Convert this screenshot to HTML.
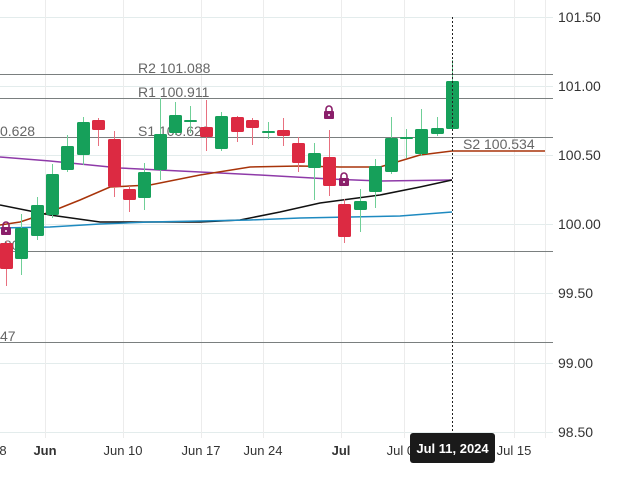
<!DOCTYPE html>
<html><head><meta charset="utf-8"><style>
body{margin:0;background:#fff;width:628px;height:477px;overflow:hidden;font-family:"Liberation Sans",sans-serif}
svg text{font-family:"Liberation Sans",sans-serif}
</style></head><body>
<svg width="628" height="477" xmlns="http://www.w3.org/2000/svg">
<g stroke="#e3ecec" stroke-width="1">
<line x1="0" y1="17.5" x2="553" y2="17.5"/><line x1="0" y1="86.5" x2="553" y2="86.5"/><line x1="0" y1="155.5" x2="553" y2="155.5"/><line x1="0" y1="224.5" x2="553" y2="224.5"/><line x1="0" y1="293.5" x2="553" y2="293.5"/><line x1="0" y1="363.5" x2="553" y2="363.5"/><line x1="0" y1="432.5" x2="553" y2="432.5"/>
</g>
<g stroke="#ececec" stroke-width="1">
<line x1="45.5" y1="0" x2="45.5" y2="438"/><line x1="123.5" y1="0" x2="123.5" y2="438"/><line x1="201.5" y1="0" x2="201.5" y2="438"/><line x1="263.5" y1="0" x2="263.5" y2="438"/><line x1="341.5" y1="0" x2="341.5" y2="438"/><line x1="404.5" y1="0" x2="404.5" y2="438"/><line x1="514.5" y1="0" x2="514.5" y2="438"/><line x1="545.5" y1="0" x2="545.5" y2="438"/>
</g>
<g stroke="#7a7f7f" stroke-width="1">
<line x1="0" y1="74.5" x2="553" y2="74.5"/><line x1="0" y1="98.5" x2="553" y2="98.5"/><line x1="0" y1="137.5" x2="553" y2="137.5"/><line x1="0" y1="251.5" x2="553" y2="251.5"/><line x1="0" y1="342.5" x2="553" y2="342.5"/>
</g>
<g fill="#666" font-size="14">
<text x="138" y="73">R2 101.088</text><text x="138" y="97">R1 100.911</text><text x="138" y="136">S1 100.628</text><text x="0" y="136">0.628</text><text x="463" y="149">S2 100.534</text><text x="0" y="250">.809</text><text x="0" y="341">47</text>
</g>
<g fill="none" stroke-width="1.5">
<polyline stroke="#8e3aa8" points="0,157 50,161 120,168 200,172 260,175 330,179 380,181 452,180"/>
<polyline stroke="#a8340a" points="0,225 20,222 50,212 80,200 110,187 150,185 200,175 250,167 300,166 340,167 380,167 420,155 452,151 545,151"/>
<polyline stroke="#111" points="0,205 50,215 100,222 155,222 200,222 240,220 280,212 320,203 380,195 420,187 452,180"/>
<polyline stroke="#1e8ac0" points="0,228 50,227 100,224 150,222 200,221 250,220 300,218 350,217 400,216 452,212"/>
</g>
<g id="c"></g>
<line x1="452.5" y1="17" x2="452.5" y2="432" stroke="#222" stroke-dasharray="2,2"/>
<g fill="#333" font-size="14">
<text x="558" y="22">101.50</text><text x="558" y="91">101.00</text><text x="558" y="160">100.50</text><text x="558" y="229">100.00</text><text x="558" y="298">99.50</text><text x="558" y="368">99.00</text><text x="558" y="437">98.50</text>
</g>
<g fill="#333" font-size="13" text-anchor="middle">
<text x="3" y="455">8</text><text x="45" y="455" font-weight="bold">Jun</text><text x="123" y="455">Jun 10</text><text x="201" y="455">Jun 17</text><text x="263" y="455">Jun 24</text><text x="341" y="455" font-weight="bold">Jul</text><text x="404" y="455">Jul 08</text><text x="514" y="455">Jul 15</text>
</g>
<rect x="410" y="433" width="85" height="30" rx="3" fill="#1a1a1a"/>
<text x="452.5" y="453" fill="#fff" font-size="13" font-weight="bold" text-anchor="middle">Jul 11, 2024</text>
</svg>
<script>
var d=[[6,'r',243,269,241,286],[21,'g',228,259,214,275],[37,'g',205,236,197,240],[52,'g',174,215,164,218],[67,'g',146,170,135,172],[83,'g',122,155,117,165],[98,'r',120,130,118,146],[114,'r',139,187,131,197],[129,'r',189,200,186,212],[144,'g',172,198,163,210],[160,'g',134,170,98,180],[175,'g',115,133,102,135],[190,'g',120,121,106,133],[206,'r',127,137,100,151],[221,'g',116,149,112,151],[237,'r',117,132,116,142],[252,'r',120,128,118,145],[268,'g',131,132,122,139],[283,'r',130,136,118,146],[298,'r',143,163,137,172],[314,'g',153,168,143,200],[329,'r',157,186,130,196],[344,'r',204,237,199,243],[360,'g',201,210,189,232],[375,'g',166,192,159,208],[391,'g',138,172,117,174],[406,'g',137,139,129,158],[421,'g',129,154,109,156],[437,'g',128,134,117,136],[452,'g',81,129,60,131]];
var s='';d.forEach(function(c){var col=c[1]=='g'?'#16a05a':'#dc2a42',wc=c[1]=='g'?'#6fcf97':'#e8707f';
s+='<line x1="'+c[0]+'.5" y1="'+c[4]+'" x2="'+c[0]+'.5" y2="'+c[5]+'" stroke="'+wc+'" stroke-width="1"/>';
var h=Math.max(2,c[3]-c[2]);s+='<rect x="'+(c[0]-6)+'" y="'+c[2]+'" width="13" height="'+h+'" rx="1.5" fill="'+col+'"/>';});
[[6,229],[329,113],[344,180]].forEach(function(p){s+='<path d="M'+(p[0]-3)+','+(p[1]-2)+' v-2 a3,3 0 0 1 6,0 v2" fill="none" stroke="#8a1f6a" stroke-width="1.6"/><rect x="'+(p[0]-5)+'" y="'+(p[1]-2)+'" width="10" height="8" rx="1" fill="#8a1f6a"/><circle cx="'+p[0]+'" cy="'+(p[1]+2)+'" r="1" fill="#fff"/>';});
document.getElementById('c').innerHTML=s;
</script>
</body></html>
